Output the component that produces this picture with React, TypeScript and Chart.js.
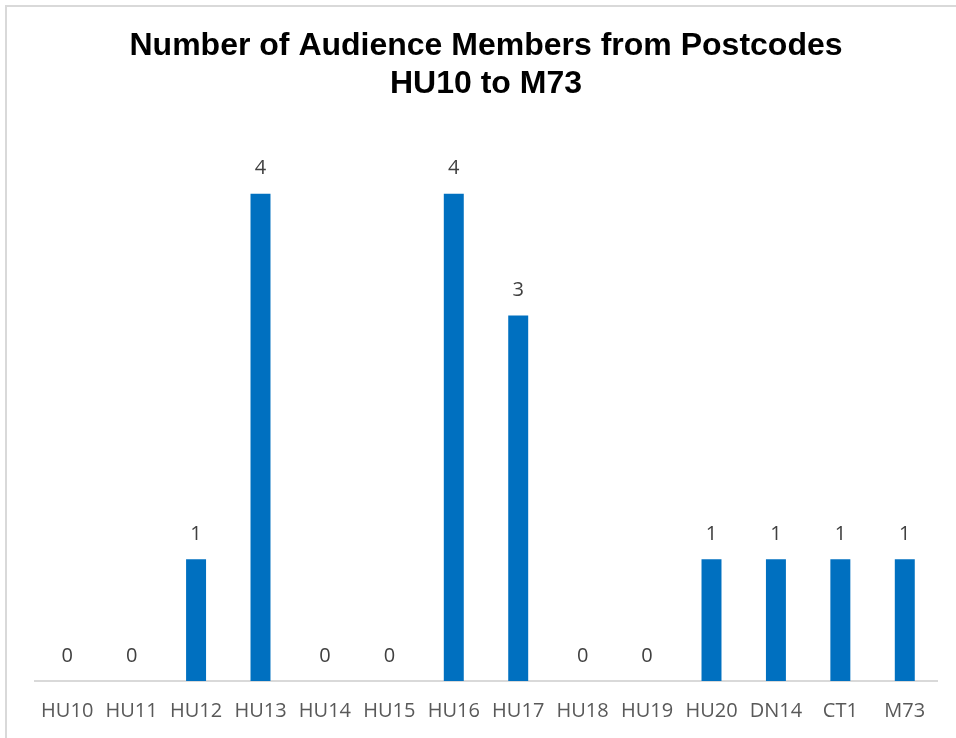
import React, { useEffect, useRef } from "react";
import { Chart, registerables } from "chart.js";

Chart.register(...registerables);

const categories = ["HU10", "HU11", "HU12", "HU13", "HU14", "HU15", "HU16", "HU17", "HU18", "HU19", "HU20", "DN14", "CT1", "M73"];
const audienceCounts = [0, 0, 1, 4, 0, 0, 4, 3, 0, 0, 1, 1, 1, 1];
const titleLines = ["Number of Audience Members from Postcodes", "HU10 to M73"];

const LABEL_FONT = "'Open Sans', sans-serif";
const TITLE_FONT = "'Liberation Sans', Arial, sans-serif";

const dataLabelPlugin = {
  id: "dataLabels",
  afterDatasetsDraw(chart: any) {
    const ctx = chart.ctx;
    const meta = chart.getDatasetMeta(0);
    const data = chart.data.datasets[0].data;
    ctx.save();
    ctx.font = "20px " + LABEL_FONT;
    ctx.fillStyle = "#404040";
    ctx.textAlign = "center";
    ctx.textBaseline = "middle";
    meta.data.forEach((bar: any, i: number) => {
      ctx.fillText(String(data[i]), bar.x, bar.y - 25);
    });
    ctx.restore();
  },
};

export default function App() {
  const canvasRef = useRef<HTMLCanvasElement | null>(null);

  useEffect(() => {
    let chart: any = null;
    let cancelled = false;
    const build = () => {
      if (cancelled || !canvasRef.current) return;
      chart = new Chart(canvasRef.current, {
        type: "bar",
        data: {
          labels: categories,
          datasets: [
            {
              data: audienceCounts,
              backgroundColor: "#0070C0",
              barPercentage: 0.31,
              categoryPercentage: 1,
            },
          ],
        },
        options: {
          animation: false,
          responsive: false,
          maintainAspectRatio: false,
          layout: { padding: { left: 35, right: 19, top: 14, bottom: 0 } },
          plugins: {
            legend: { display: false },
            tooltip: { enabled: false },
            title: {
              display: true,
              text: titleLines,
              color: "#000000",
              font: { family: TITLE_FONT, size: 32, weight: "bold", lineHeight: 1.2 },
              padding: { top: 13, bottom: 29 },
            },
          },
          scales: {
            x: {
              grid: { display: false, drawTicks: false },
              border: { display: true, color: "#d9d9d9", width: 2 },
              ticks: {
                color: "#595959",
                padding: 18,
                font: { family: LABEL_FONT, size: 20 },
                maxRotation: 0,
                autoSkip: false,
              },
              afterFit: (scale: any) => {
                scale.height = 57;
              },
            },
            y: {
              display: false,
              min: 0,
              max: 4.5,
            },
          },
        },
        plugins: [dataLabelPlugin],
      });
    };
    const fonts: any = (document as any).fonts;
    if (fonts && fonts.load) {
      Promise.all([
        fonts.load("20px 'Open Sans'"),
        fonts.load("bold 32px 'Liberation Sans'"),
      ])
        .catch(() => null)
        .then(() => build());
    } else {
      build();
    }
    return () => {
      cancelled = true;
      if (chart) chart.destroy();
    };
  }, []);

  return (
    <div style={{ position: "fixed", left: 0, top: 0, width: 956, height: 738, background: "#ffffff" }}>
      <canvas ref={canvasRef} width={956} height={738} style={{ position: "absolute", left: 0, top: 0 }} />
      <div
        style={{
          position: "absolute",
          left: 5,
          top: 5,
          right: 0,
          bottom: 0,
          borderTop: "2px solid #d9d9d9",
          borderLeft: "2px solid #d9d9d9",
          pointerEvents: "none",
        }}
      />
    </div>
  );
}
